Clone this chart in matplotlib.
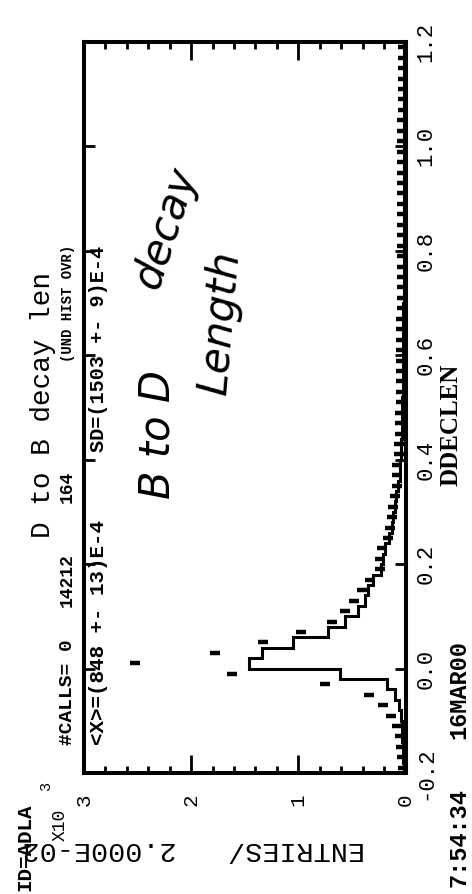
import numpy as np
import matplotlib.pyplot as plt

plt.rcParams['font.family'] = ['Liberation Mono', 'DejaVu Sans']

# DDECLEN binning, 0.02 per bin ("ENTRIES/ 2.000E-02")
edges = np.round(np.linspace(-0.2, 1.2, 71), 2)
centers = (edges[:-1] + edges[1:]) / 2

# solid histogram, one value per bin from -0.2 to 1.2
hist_counts = [18, 20, 24, 28, 33, 40, 58, 100, 175, 611,
               1458, 1339, 1047, 720, 565, 446, 378, 350, 303, 229,
               210, 192, 155, 130, 120, 100, 84, 70, 55, 48,
               42, 38, 35, 32, 30, 28, 26, 25, 24, 23,
               22, 21, 20, 20, 19, 18, 18, 17, 17, 16,
               16, 15, 15, 15, 14, 14, 14, 13, 13, 13,
               12, 12, 12, 12, 11, 11, 11, 11, 10, 10]

# points with error bars, one per bin centre
point_counts = [25, 30, 38, 50, 80, 138, 213, 338, 751, 1620,
                2524, 1778, 1330, 975, 689, 565, 481, 409, 331, 238,
                238, 222, 160, 145, 129, 114, 98, 82, 80, 75,
                60, 56, 53, 50, 48, 46, 45, 43, 42, 41,
                40, 39, 38, 38, 37, 36, 36, 35, 34, 34,
                33, 33, 32, 32, 31, 31, 30, 30, 29, 29,
                28, 28, 28, 27, 27, 26, 26, 26, 25, 25]

entries_ticks = [0, 1000, 2000, 3000]
entries_labels = ['0', '1', '2', '3']
declen_ticks = [-0.2, 0.0, 0.2, 0.4, 0.6, 0.8, 1.0, 1.2]
declen_labels = ['-0.2', '0.0', '0.2', '0.4', '0.6', '0.8', '1.0', '1.2']

W, H = 472, 894
fig = plt.figure(figsize=(W / 100, H / 100), dpi=100)
ax = fig.add_axes([84 / W, 1 - 773 / H, 321.5 / W, 731 / H])

ax.stairs(hist_counts, edges, orientation='horizontal', color='black', lw=2.2)
ax.plot(point_counts, centers, ls='none', marker='_', ms=6.5, mew=3.2, color='black')

ax.set_xlim(3000, 0)
ax.set_ylim(-0.2, 1.2)
ax.set_xticks(entries_ticks, labels=entries_labels)
ax.set_xticks(np.arange(0, 3001, 200), minor=True)
ax.set_yticks(declen_ticks, labels=declen_labels)

ax.tick_params(axis='x', which='both', direction='in', top=True, bottom=True,
               width=2, labelrotation=90, labelsize=15, pad=15)
ax.tick_params(axis='x', which='major', length=13)
ax.tick_params(axis='x', which='minor', length=5)
ax.tick_params(axis='y', which='major', direction='in', left=True, right=True,
               length=8, width=2, labelleft=False, labelright=True,
               labelrotation=90, labelsize=16, pad=7)
for lab in ax.get_yticklabels():
    lab.set_va('center')
for sp in ax.spines.values():
    sp.set_linewidth(2.9)


def put(x, y, s, **kw):
    # x, y in pixels from the top-left corner
    fig.text(x / W, 1 - y / H, s, **kw)


put(43, 405, 'D to B decay len', rotation=90, ha='center', va='center', fontsize=20)
put(67, 745, '#CALLS= 0', rotation=90, ha='center', va='bottom', fontsize=14, weight='bold')
put(67, 580, '14212', rotation=90, ha='center', va='center', fontsize=13, weight='bold')
put(67, 487, '164', rotation=90, ha='center', va='center', fontsize=13, weight='bold')
put(68, 303, '(UND HIST OVR)', rotation=90, ha='center', va='center', fontsize=10, weight='bold')
put(99, 745, '<X>=(848 +- 13)E-4', rotation=90, ha='center', va='bottom', fontsize=15, weight='bold')
put(99, 452, 'SD=(1503 +- 9)E-4', rotation=90, ha='center', va='bottom', fontsize=14.5, weight='bold')

put(451, 425, 'DDECLEN', rotation=90, ha='center', va='center', fontsize=18,
    family='Liberation Serif', weight='bold')
put(459, 690, '16MAR00', rotation=90, ha='center', va='center', fontsize=17, weight='bold')
put(459, 838, '7:54:34', rotation=90, ha='center', va='center', fontsize=17, weight='bold')

put(25, 847, 'ID=ADLA', rotation=90, ha='center', va='center', fontsize=15, weight='bold')
put(60, 825, 'X10', rotation=90, ha='center', va='center', fontsize=13)
put(46, 786, '3', rotation=90, ha='center', va='center', fontsize=11)
put(365, 849, 'ENTRIES/   2.000E-02', rotation=180, ha='right', va='center', fontsize=20.5)

# handwritten note
hand = dict(family='DejaVu Sans', style='italic', fontsize=30)
put(157, 435, 'B to D', rotation=90, ha='center', va='center', **hand)
put(165, 228, 'decay', rotation=72, ha='center', va='center', **hand)
put(220, 322, 'Length', rotation=85, ha='center', va='center', **hand)

fig.savefig('out.png', dpi=100)
